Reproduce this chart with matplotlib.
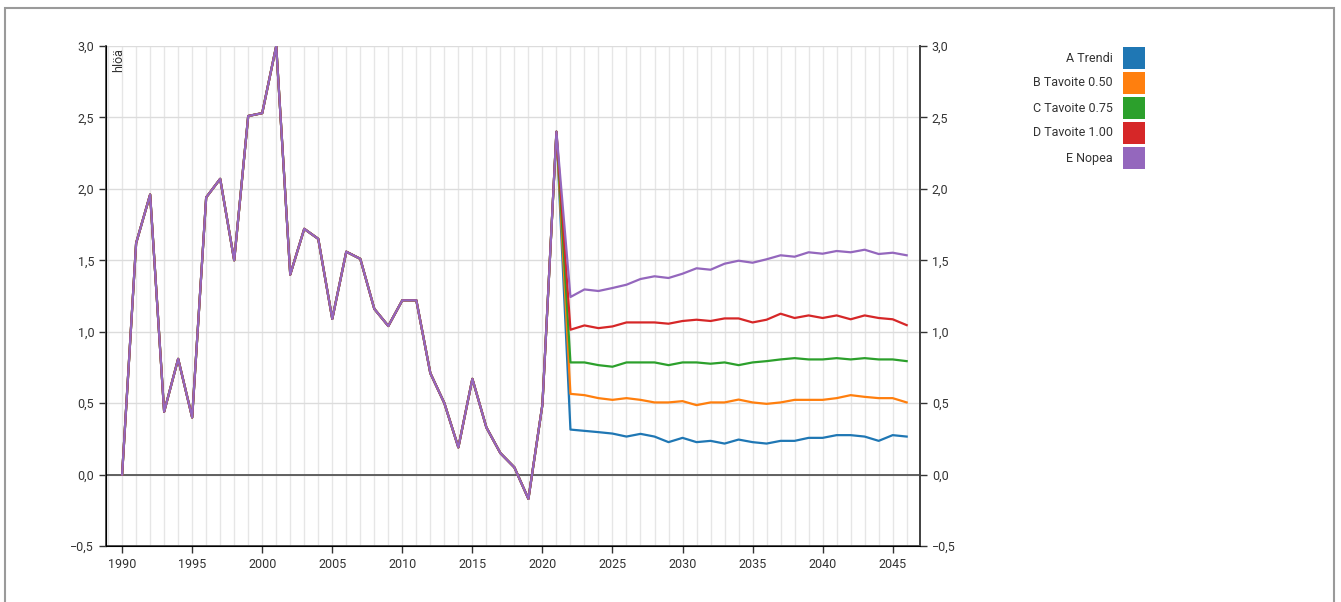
import numpy as np
import matplotlib.pyplot as plt
from matplotlib.patches import Rectangle
from matplotlib.ticker import FuncFormatter

plt.rcParams['font.family'] = ['Roboto', 'DejaVu Sans']

years_hist = np.arange(1990, 2022)
hist = [0.0, 1.62, 1.96, 0.44, 0.81, 0.40, 1.94, 2.07, 1.50, 2.51, 2.53, 3.0,
        1.40, 1.72, 1.65, 1.09, 1.56, 1.51, 1.16, 1.04, 1.22, 1.22, 0.71, 0.50,
        0.19, 0.67, 0.33, 0.15, 0.05, -0.17, 0.49, 2.40]

years_proj = np.arange(2022, 2047)
a_trendi = [0.315, 0.306, 0.297, 0.287, 0.266, 0.285, 0.266, 0.227, 0.257, 0.227,
            0.236, 0.217, 0.245, 0.227, 0.217, 0.236, 0.236, 0.257, 0.257, 0.276,
            0.276, 0.266, 0.236, 0.276, 0.266]
b_tav050 = [0.565, 0.556, 0.535, 0.523, 0.535, 0.523, 0.505, 0.505, 0.514, 0.486,
            0.505, 0.505, 0.525, 0.505, 0.495, 0.505, 0.523, 0.523, 0.523, 0.535,
            0.556, 0.544, 0.535, 0.535, 0.505]
c_tav075 = [0.785, 0.785, 0.766, 0.755, 0.785, 0.785, 0.785, 0.766, 0.785, 0.785,
            0.776, 0.785, 0.766, 0.785, 0.794, 0.806, 0.815, 0.806, 0.806, 0.815,
            0.806, 0.815, 0.806, 0.806, 0.794]
d_tav100 = [1.014, 1.044, 1.025, 1.037, 1.065, 1.065, 1.065, 1.056, 1.075, 1.084,
            1.075, 1.093, 1.093, 1.065, 1.084, 1.126, 1.096, 1.114, 1.096, 1.114,
            1.087, 1.114, 1.096, 1.087, 1.046]
e_nopea = [1.243, 1.296, 1.285, 1.306, 1.329, 1.369, 1.388, 1.376, 1.406, 1.444,
           1.434, 1.476, 1.497, 1.483, 1.507, 1.535, 1.525, 1.556, 1.546, 1.565,
           1.556, 1.574, 1.544, 1.553, 1.535]

names = ['A Trendi', 'B Tavoite 0.50', 'C Tavoite 0.75', 'D Tavoite 1.00', 'E Nopea']
series = [a_trendi, b_tav050, c_tav075, d_tav100, e_nopea]
colors = ['#1f77b4', '#ff7f0e', '#2ca02c', '#d62728', '#9467bd']

fig = plt.figure(figsize=(13.41, 6.02), dpi=100)
ax = fig.add_axes([106/1341, 1-546/602, (920-106)/1341, (546-46)/602])

# grey frame round the picture
fig.patches.append(Rectangle((5/1341, -0.1), 1329/1341, 1.1 - 8/602, transform=fig.transFigure,
                             fill=False, edgecolor='#9a9a9a', linewidth=1.5))

yrs_all = np.concatenate([years_hist, years_proj])
for yr, vals, c in zip([years_proj]*5, series, colors):
    ax.plot(yrs_all, hist + vals, color=c, linewidth=1.6, zorder=3)

ax.set_xlim(1988.85, 2046.95)
ax.set_ylim(-0.5, 3.0)
ax.set_xticks(np.arange(1990, 2046, 5))
ax.set_xticks(np.arange(1989, 2047), minor=True)
ax.set_yticks(np.arange(-0.5, 3.01, 0.5))
ax.grid(True, which='both', axis='x', color='#e6e6e6', linewidth=1)
ax.grid(True, which='major', axis='y', color='#dcdcdc', linewidth=1)
ax.set_axisbelow(True)
ax.axhline(0, color='#555555', linewidth=1.3, zorder=2)

fmt = FuncFormatter(lambda v, p: f'{v:.1f}'.replace('.', ',').replace('-', '\u2212'))
ax.yaxis.set_major_formatter(fmt)
ax.tick_params(axis='x', which='minor', length=0)
ax.tick_params(axis='both', which='major', direction='out', length=5, width=1,
               color='#333333', labelsize=9, labelcolor='#333333')
for s in ['top']:
    ax.spines[s].set_visible(False)
for s in ['left', 'bottom', 'right']:
    ax.spines[s].set_color('#444444')
    ax.spines[s].set_linewidth(1.3)

ax2 = ax.twinx()
ax2.set_ylim(ax.get_ylim())
ax2.set_yticks(ax.get_yticks())
ax2.yaxis.set_major_formatter(fmt)
ax2.tick_params(axis='y', direction='out', length=5, width=1, color='#333333',
                labelsize=9, labelcolor='#333333')
ax2.spines['top'].set_visible(False)
ax2.spines['right'].set_color('#444444')
ax2.spines['right'].set_linewidth(1.3)

ax.text(0.008, 0.995, 'hlöä', rotation=90, ha='left', va='top', transform=ax.transAxes,
        fontsize=9, color='#333333')

# legend
for i, (n, c) in enumerate(zip(names, colors)):
    yc = 58 + i * 25
    fig.text(1113/1341, 1 - yc/602, n, ha='right', va='center', fontsize=9, color='#333333')
    fig.patches.append(Rectangle((1123/1341, 1 - (yc + 11)/602), 22/1341, 22/602,
                                 transform=fig.transFigure, facecolor=c, edgecolor='none'))

fig.savefig('out.png', dpi=100)
